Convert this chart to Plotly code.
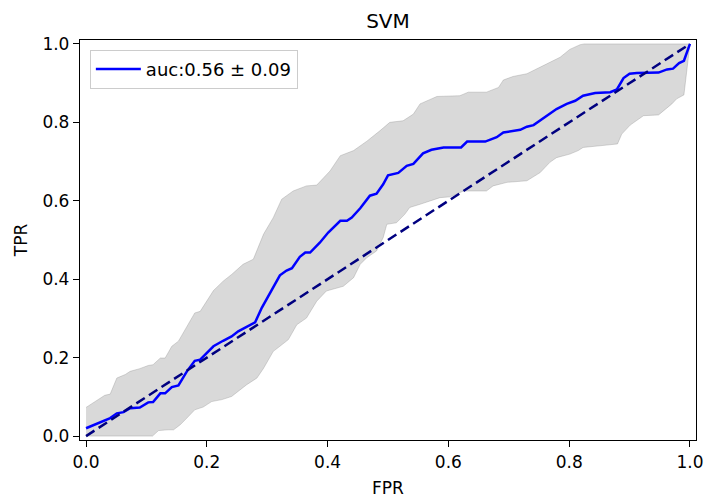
import plotly.graph_objects as go

# Mean ROC curve
mean_fpr = [0.000, 0.015, 0.029, 0.040, 0.051, 0.062, 0.073, 0.089, 0.103, 0.111,
            0.123, 0.131, 0.142, 0.153, 0.167, 0.180, 0.189, 0.211, 0.227, 0.241,
            0.252, 0.266, 0.280, 0.291, 0.305, 0.321, 0.332, 0.341, 0.354, 0.363,
            0.371, 0.387, 0.401, 0.421, 0.432, 0.440, 0.454, 0.470, 0.481, 0.492,
            0.500, 0.517, 0.531, 0.542, 0.558, 0.572, 0.592, 0.621, 0.631, 0.661,
            0.680, 0.691, 0.719, 0.730, 0.741, 0.757, 0.779, 0.796, 0.810, 0.823,
            0.843, 0.868, 0.879, 0.890, 0.900, 0.912, 0.948, 0.962, 0.972, 0.982,
            0.990, 1.000]
mean_tpr = [0.020, 0.029, 0.039, 0.046, 0.058, 0.061, 0.071, 0.073, 0.086, 0.087,
            0.109, 0.109, 0.125, 0.129, 0.165, 0.192, 0.195, 0.229, 0.243, 0.254,
            0.267, 0.278, 0.290, 0.327, 0.365, 0.410, 0.422, 0.428, 0.457, 0.468,
            0.468, 0.493, 0.519, 0.549, 0.549, 0.557, 0.581, 0.613, 0.618, 0.642,
            0.665, 0.671, 0.689, 0.694, 0.721, 0.730, 0.736, 0.736, 0.751, 0.751,
            0.762, 0.774, 0.781, 0.789, 0.793, 0.810, 0.834, 0.847, 0.855, 0.868,
            0.875, 0.877, 0.884, 0.913, 0.924, 0.926, 0.927, 0.935, 0.937, 0.951,
            0.957, 1.000]

# Upper band (mean + std, clipped at 1)
upper_fpr = [0.000, 0.015, 0.031, 0.040, 0.051, 0.065, 0.073, 0.089, 0.103, 0.111,
             0.123, 0.131, 0.142, 0.153, 0.167, 0.180, 0.189, 0.211, 0.227, 0.241,
             0.260, 0.277, 0.294, 0.310, 0.324, 0.343, 0.365, 0.382, 0.404, 0.421,
             0.443, 0.465, 0.487, 0.503, 0.525, 0.542, 0.553, 0.581, 0.619, 0.633,
             0.663, 0.683, 0.691, 0.707, 0.730, 0.752, 0.768, 0.785, 0.801, 0.818,
             0.825, 1.000]
upper_tpr = [0.073, 0.088, 0.104, 0.107, 0.148, 0.157, 0.165, 0.172, 0.180, 0.182,
             0.199, 0.199, 0.229, 0.242, 0.280, 0.314, 0.318, 0.371, 0.395, 0.412,
             0.438, 0.451, 0.515, 0.557, 0.604, 0.625, 0.638, 0.640, 0.676, 0.715,
             0.728, 0.752, 0.779, 0.800, 0.804, 0.821, 0.847, 0.866, 0.868, 0.877,
             0.877, 0.889, 0.908, 0.917, 0.924, 0.941, 0.953, 0.966, 0.986, 0.998,
             1.000, 1.000]

# Lower band (mean - std, clipped at 0)
lower_fpr = [0.000, 0.110, 0.120, 0.136, 0.145, 0.156, 0.167, 0.180, 0.194, 0.208,
             0.225, 0.241, 0.255, 0.266, 0.283, 0.294, 0.310, 0.321, 0.335, 0.349,
             0.365, 0.382, 0.398, 0.426, 0.443, 0.454, 0.465, 0.481, 0.492, 0.498,
             0.514, 0.528, 0.536, 0.553, 0.586, 0.603, 0.625, 0.663, 0.674, 0.697,
             0.730, 0.752, 0.768, 0.779, 0.801, 0.815, 0.823, 0.862, 0.880, 0.887,
             0.901, 0.912, 0.923, 0.948, 0.956, 0.970, 0.978, 0.990, 1.000]
lower_tpr = [0.000, 0.000, 0.014, 0.016, 0.016, 0.029, 0.046, 0.067, 0.074, 0.088,
             0.093, 0.101, 0.118, 0.131, 0.148, 0.173, 0.216, 0.229, 0.246, 0.284,
             0.301, 0.344, 0.370, 0.382, 0.404, 0.438, 0.455, 0.472, 0.506, 0.540,
             0.544, 0.566, 0.583, 0.591, 0.608, 0.610, 0.625, 0.625, 0.638, 0.647,
             0.651, 0.672, 0.698, 0.710, 0.719, 0.728, 0.736, 0.742, 0.745, 0.770,
             0.793, 0.806, 0.817, 0.819, 0.830, 0.847, 0.860, 0.870, 1.000]

chance = [0.0, 1.0]
tick_vals = [0.0, 0.2, 0.4, 0.6, 0.8, 1.0]
legend_label = "auc:0.56 \u00b1 0.09"

FONT = "DejaVu Sans"

fig = go.Figure()

# std band
fig.add_trace(go.Scatter(
    x=upper_fpr + lower_fpr[::-1],
    y=upper_tpr + lower_tpr[::-1],
    fill="toself",
    fillcolor="rgba(128,128,128,0.3)",
    line=dict(color="rgba(128,128,128,0.3)", width=1),
    mode="lines",
    showlegend=False,
    hoverinfo="skip",
))

# mean curve
fig.add_trace(go.Scatter(
    x=mean_fpr, y=mean_tpr, mode="lines",
    line=dict(color="#0000ff", width=2.5),
    name=legend_label,
))

# chance line
fig.add_trace(go.Scatter(
    x=chance, y=chance, mode="lines",
    line=dict(color="#000080", width=2.5, dash="10px,5px"),
    showlegend=False,
))

axis_common = dict(
    automargin=False,
    showgrid=False, zeroline=False,
    showline=True, linecolor="black", linewidth=1.3, mirror=True,
    ticks="outside", ticklen=6, tickwidth=1.3, tickcolor="black",
    tickvals=tick_vals, tickformat=".1f",
    tickfont=dict(family=FONT, size=17, color="black"),
)

fig.update_layout(
    width=707, height=500,
    margin=dict(l=80, r=11, t=40, b=60),
    paper_bgcolor="white", plot_bgcolor="white",
    font=dict(family=FONT, color="black"),
    title=dict(text="SVM", x=0.5, xanchor="center", xref="paper",
               y=1 - 21 / 500, yanchor="middle", yref="container",
               font=dict(family=FONT, size=20, color="black")),
    xaxis=dict(range=[-0.01, 1.01],
               title=dict(text="FPR", font=dict(family=FONT, size=17), standoff=11),
               **axis_common),
    yaxis=dict(range=[-0.01, 1.01],
               title=dict(text="TPR", font=dict(family=FONT, size=17), standoff=10),
               **axis_common),
    legend=dict(x=0.016, y=0.9755, xanchor="left", yanchor="top",
                itemwidth=45,
                bgcolor="rgba(255,255,255,0.8)", bordercolor="#cccccc", borderwidth=1,
                font=dict(family=FONT, size=18, color="black")),
)

fig.write_html("out.html")
